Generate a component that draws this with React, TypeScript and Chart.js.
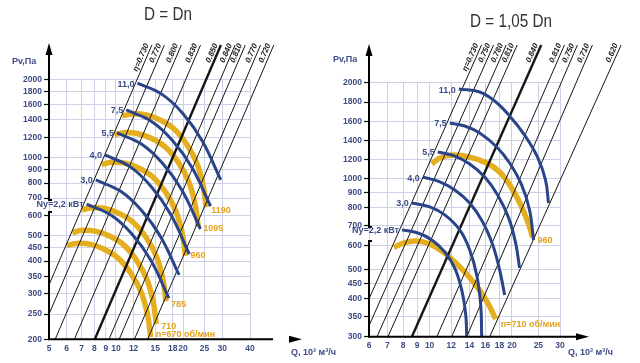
import React, { useEffect, useRef } from 'react';
import { Chart, registerables, LinearScale } from 'chart.js';

Chart.register(...registerables);

type Pt = [number, number];

// ================= LEFT PANEL  (D = Dn) =================
const L_X_TICKS = [5, 6, 7, 8, 9, 10, 12, 15, 18, 20, 25, 30, 40];
const L_Y_TICKS = [200, 250, 300, 350, 400, 450, 500, 600, 700, 800, 900, 1000, 1200, 1400, 1600, 1800, 2000];

// fan curves (Q, 10^3 m3/h ; Pv, Pa)
const L_FAN_670: Pt[] = [[6.01, 459], [6.64, 468], [7.7, 464], [8.82, 445], [10.22, 411], [11.72, 357], [13.0, 302], [13.87, 248], [14.31, 204]];
const L_FAN_710: Pt[] = [[6.37, 515], [7.04, 526], [8.16, 521], [9.35, 500], [10.83, 462], [12.42, 401], [13.78, 339], [14.7, 279], [15.16, 229]];
const L_FAN_785: Pt[] = [[7.04, 630], [7.78, 642], [9.02, 637], [10.33, 611], [11.97, 564], [13.73, 490], [15.23, 415], [16.25, 340], [16.77, 280]];
const L_FAN_960: Pt[] = [[8.61, 942], [9.51, 961], [11.03, 953], [12.64, 914], [14.64, 844], [16.79, 733], [18.63, 620], [19.87, 509], [20.5, 419]];
const L_FAN_1095: Pt[] = [[9.82, 1226], [10.85, 1250], [12.58, 1239], [14.41, 1189], [16.7, 1098], [19.15, 954], [21.25, 807], [22.67, 662], [23.39, 545]];
const L_FAN_1190: Pt[] = [[10.67, 1448], [11.79, 1476], [13.68, 1464], [15.66, 1404], [18.15, 1297], [20.82, 1126], [23.09, 953], [24.63, 782], [25.42, 644]];
const L_FAN_LABELS = ['n=670 об/мин', '710', '785', '960', '1095', '1190'];

// power lines (kW)
const L_N_110: Pt[] = [[12.48, 1942], [16.16, 1752], [20.05, 1476], [24.46, 1159], [29.55, 822]];
const L_N_75: Pt[] = [[11.12, 1529], [14.45, 1380], [17.97, 1164], [21.95, 917], [26.6, 652]];
const L_N_55: Pt[] = [[10.11, 1247], [13.1, 1126], [16.25, 949], [19.82, 748], [23.95, 532]];
const L_N_40: Pt[] = [[8.92, 1026], [11.59, 923], [14.41, 774], [17.6, 606], [21.34, 426]];
const L_N_30: Pt[] = [[8.11, 822], [10.5, 743], [13.03, 627], [15.89, 496], [19.21, 354]];
const L_N_22: Pt[] = [[7.38, 664], [9.52, 601], [11.79, 509], [14.34, 403], [17.29, 288]];
const L_N_LABELS = ['11,0', '7,5', '5,5', '4,0', '3,0', 'Ny=2,2 кВт'];

// efficiency lines
const L_ETA_LABELS = ['η=0.730', '0.770', '0.800', '0.830', '0.850', '0.840', '0.810', '0.770', '0.720'];
const L_ETA_LOW: Pt[] = [[5, 324], [5, 250], [5.33, 200], [6.5, 200], [8.03, 200], [9.3, 200], [10.33, 200], [12.1, 200], [13.87, 200]];
const L_ETA_HIGH: Pt[] = [[14.49, 2720], [16.49, 2720], [19.66, 2720], [23.97, 2720], [29.61, 2720], [34.3, 2720], [38.1, 2720], [44.62, 2720], [51.15, 2720]];

// ================= RIGHT PANEL  (D = 1,05 Dn) =================
const R_X_TICKS = [6, 7, 8, 9, 10, 12, 14, 16, 18, 20, 25, 30];
const R_Y_TICKS = [300, 350, 400, 450, 500, 600, 700, 800, 900, 1000, 1200, 1400, 1600, 1800, 2000];
// pressure axis of the original is not a pure log axis: value -> fraction of axis height
const R_Y_KNOTS: Pt[] = [[300, 0], [1000, 0.622], [1200, 0.6984], [1400, 0.7736], [1600, 0.848], [1800, 0.924], [2000, 1]];

const R_FAN_710: Pt[] = [[7.4, 592], [8.05, 613], [8.91, 622], [10.02, 608], [11.46, 563], [13.11, 503], [14.75, 445], [16.31, 388], [17.45, 343]];
const R_FAN_960: Pt[] = [[10.19, 1148], [10.9, 1213], [12.15, 1242], [14.02, 1222], [16.18, 1159], [18.04, 1065], [19.96, 932], [21.71, 807], [23.02, 708], [23.81, 641]];
const R_FAN_LABELS = ['n=710 об/мин', '960'];

const R_N_110: Pt[] = [[12.79, 1932], [15.25, 1901], [17.3, 1810], [19.62, 1653], [22.26, 1452], [24.83, 1222], [26.55, 991], [27.23, 831]];
const R_N_75: Pt[] = [[11.85, 1581], [13.44, 1548], [15.25, 1473], [17.6, 1325], [19.62, 1159], [21.71, 954], [23.21, 788], [24.01, 627]];
const R_N_55: Pt[] = [[10.71, 1273], [12.36, 1232], [14.02, 1148], [15.91, 1016], [17.74, 884], [19.46, 742], [20.64, 613], [21.34, 506]];
const R_N_40: Pt[] = [[9.44, 1016], [10.9, 976], [12.36, 918], [14.02, 831], [15.64, 719], [17.01, 604], [18.04, 499], [18.82, 412]];
const R_N_30: Pt[] = [[8.61, 831], [10.02, 807], [11.36, 759], [12.89, 677], [14.02, 581], [14.87, 480], [15.38, 382], [15.51, 300]];
const R_N_22: Pt[] = [[7.92, 677], [9.06, 661], [10.19, 627], [11.36, 572], [12.36, 506], [13.11, 428], [13.56, 354], [13.67, 300]];
const R_N_LABELS = ['11,0', '7,5', '5,5', '4,0', '3,0', 'Ny=2,2 кВт'];

const R_ETA_LABELS = ['η=0.730', '0.750', '0.780', '0.810', '0.840', '0.810', '0.750', '0.710', '0.620'];
const R_ETA_LOW: Pt[] = [[6, 400], [6, 326], [6.42, 300], [7.04, 300], [8.61, 300], [10.63, 300], [12.05, 300], [13.67, 300], [16.59, 300]];
const R_ETA_HIGH: Pt[] = [[15.49, 2457], [17.14, 2457], [19.07, 2457], [20.92, 2457], [25.61, 2457], [31.15, 2457], [34.75, 2457], [39.42, 2457], [50.2, 2457]];

// ================= styles =================
const YELLOW = '#e5ae1e';
const YELLOW_TXT = '#e6a21a';
const BLUE = '#2a4489';
const BLUE_TXT = '#3b4c88';
const TICK_TXT = '#3d4c84';
const GRID = '#cdd1e5';
const FONT = '"Liberation Sans", Arial, sans-serif';

class KnotLogScale extends LinearScale {
  static id = 'knotlog';
  static defaults = {};
  toDecimal(v: number) {
    const k = R_Y_KNOTS;
    const lv = Math.log10(Math.max(v, 1e-9));
    let i = 0;
    while (i < k.length - 2 && lv > Math.log10(k[i + 1][0])) i++;
    const a = Math.log10(k[i][0]);
    const b = Math.log10(k[i + 1][0]);
    return k[i][1] + ((lv - a) / (b - a)) * (k[i + 1][1] - k[i][1]);
  }
  getPixelForValue(v: number) {
    return this.getPixelForDecimal(this.toDecimal(v));
  }
  getValueForPixel(px: number) {
    const d = this.getDecimalForPixel(px);
    const k = R_Y_KNOTS;
    let i = 0;
    while (i < k.length - 2 && d > k[i + 1][1]) i++;
    const a = Math.log10(k[i][0]);
    const b = Math.log10(k[i + 1][0]);
    return Math.pow(10, a + ((d - k[i][1]) / (k[i + 1][1] - k[i][1])) * (b - a));
  }
}
Chart.register(KnotLogScale as any);

interface PanelCfg {
  title: string; titleX: number; titleY: number; titleW: number;
  xTicks: number[]; yTicks: number[]; xMin: number; xMax: number; yMin: number; yMax: number; yType: string;
  canvasW: number; padRight: number; padTop: number; yWidth: number; xHeight: number;
  fans: Pt[][]; fanLabels: string[]; fanLabelDy: number[];
  power: Pt[][]; powerLabels: string[];
  etaLow: Pt[]; etaHigh: Pt[]; etaLabels: string[]; etaBest: number;
  yTip: number; xEnd: number; xArrowBase: number; xArrowTip: number;
  axisGap: Pt;
  pv: Pt; q: Pt;
}

const LEFT: PanelCfg = {
  title: 'D = Dn', titleX: 168, titleY: 20, titleW: 48,
  xTicks: L_X_TICKS, yTicks: L_Y_TICKS, xMin: 5, xMax: 40, yMin: 200, yMax: 2000, yType: 'logarithmic',
  canvasW: 360, padRight: 110, padTop: 79.7, yWidth: 49, xHeight: 23.7,
  fans: [L_FAN_670, L_FAN_710, L_FAN_785, L_FAN_960, L_FAN_1095, L_FAN_1190], fanLabels: L_FAN_LABELS,
  fanLabelDy: [-3, 2, 3, 0, 2, 3],
  power: [L_N_110, L_N_75, L_N_55, L_N_40, L_N_30, L_N_22], powerLabels: L_N_LABELS,
  etaLow: L_ETA_LOW, etaHigh: L_ETA_HIGH, etaLabels: L_ETA_LABELS, etaBest: 4,
  yTip: 43, xEnd: 273, xArrowBase: 289, xArrowTip: 302,
  axisGap: [688, 619],
  pv: [12, 62], q: [291, 353],
};

const RIGHT: PanelCfg = {
  title: 'D = 1,05 Dn', titleX: 191, titleY: 27, titleW: 82,
  xTicks: R_X_TICKS, yTicks: R_Y_TICKS, xMin: 6, xMax: 30, yMin: 300, yMax: 2000, yType: 'knotlog',
  canvasW: 320, padRight: 80, padTop: 82.7, yWidth: 49, xHeight: 26.3,
  fans: [R_FAN_710, R_FAN_960], fanLabels: R_FAN_LABELS, fanLabelDy: [5, 3],
  power: [R_N_110, R_N_75, R_N_55, R_N_40, R_N_30, R_N_22], powerLabels: R_N_LABELS,
  etaLow: R_ETA_LOW, etaHigh: R_ETA_HIGH, etaLabels: R_ETA_LABELS, etaBest: 4,
  yTip: 44, xEnd: 258, xArrowBase: 256, xArrowTip: 269,
  axisGap: [692, 622],
  pv: [13, 60], q: [248, 353],
};

function line(points: Pt[], color: string, width: number, order: number, tension = 0.4) {
  return {
    data: points.map(([x, y]) => ({ x, y })),
    borderColor: color,
    borderWidth: width,
    pointRadius: 0,
    pointHoverRadius: 0,
    fill: false,
    tension,
    order,
    clip: false,
    borderCapStyle: 'butt',
  };
}

function makeChart(canvas: HTMLCanvasElement, p: PanelCfg) {
  const datasets: any[] = [];
  p.fans.forEach((pts) => datasets.push(line(pts, YELLOW, 5.5, 30)));
  p.etaLow.forEach((lo, i) => datasets.push(line([lo, p.etaHigh[i]], '#151515', i === p.etaBest ? 2.4 : 1, 20, 0)));
  p.power.forEach((pts) => datasets.push(line(pts, BLUE, 3, 10)));

  const overlay = {
    id: 'overlay',
    afterDatasetsDraw(chart: any) {
      const ctx = chart.ctx as CanvasRenderingContext2D;
      const xs = chart.scales.x;
      const ys = chart.scales.y;
      const ca = chart.chartArea;
      const px = (pt: Pt) => [xs.getPixelForValue(pt[0]), ys.getPixelForValue(pt[1])];
      ctx.save();

      // axes (y axis broken where the "Ny" label crosses it)
      const g0 = ys.getPixelForValue(p.axisGap[0]);
      const g1 = ys.getPixelForValue(p.axisGap[1]);
      ctx.clearRect(ca.left - 8, g0, 7, g1 - g0);
      ctx.strokeStyle = '#000';
      ctx.fillStyle = '#000';
      ctx.lineWidth = 2;
      ctx.beginPath();
      ctx.moveTo(ca.left, ca.bottom + 1);
      ctx.lineTo(ca.left, g1);
      ctx.lineTo(ca.left + 3, g1);
      ctx.moveTo(ca.left + 3, g0);
      ctx.lineTo(ca.left, g0);
      ctx.lineTo(ca.left, p.yTip + 8);
      ctx.moveTo(ca.left - 1, ca.bottom);
      ctx.lineTo(p.xEnd, ca.bottom);
      ctx.stroke();
      ctx.beginPath();
      ctx.moveTo(ca.left, p.yTip);
      ctx.lineTo(ca.left - 3.5, p.yTip + 12);
      ctx.lineTo(ca.left + 3.5, p.yTip + 12);
      ctx.closePath();
      ctx.fill();
      ctx.beginPath();
      ctx.moveTo(p.xArrowTip, ca.bottom);
      ctx.lineTo(p.xArrowBase, ca.bottom - 3.5);
      ctx.lineTo(p.xArrowBase, ca.bottom + 3.5);
      ctx.closePath();
      ctx.fill();

      // title (condensed look)
      ctx.fillStyle = '#333';
      ctx.font = '18.5px "Liberation Sans Narrow", "Liberation Sans", "DejaVu Sans", sans-serif';
      ctx.textAlign = 'center';
      ctx.textBaseline = 'alphabetic';
      const tw = ctx.measureText(p.title).width;
      ctx.save();
      ctx.translate(p.titleX, p.titleY);
      ctx.scale(Math.min(1, p.titleW / tw), 1);
      ctx.fillText(p.title, 0, 0);
      ctx.restore();

      // axis titles
      ctx.fillStyle = TICK_TXT;
      ctx.font = `bold 9px ${FONT}`;
      ctx.textAlign = 'left';
      ctx.textBaseline = 'middle';
      ctx.fillText('Pv,Па', p.pv[0], p.pv[1]);
      ctx.fillText('Q, 10³ м³/ч', p.q[0], p.q[1]);

      // efficiency labels
      ctx.fillStyle = '#1a1a1a';
      ctx.font = `italic bold 8px ${FONT}`;
      p.etaLabels.forEach((lab, i) => {
        const a = px(p.etaLow[i]);
        const b = px(p.etaHigh[i]);
        const ang = Math.atan2(b[1] - a[1], b[0] - a[0]);
        ctx.save();
        ctx.translate(b[0], b[1]);
        ctx.rotate(ang);
        ctx.textAlign = 'right';
        ctx.textBaseline = 'bottom';
        ctx.fillText(lab, -1, -1);
        ctx.restore();
      });

      // power labels
      ctx.fillStyle = BLUE_TXT;
      ctx.font = `bold 9px ${FONT}`;
      ctx.textAlign = 'right';
      ctx.textBaseline = 'middle';
      p.power.forEach((pts, i) => {
        const s = px(pts[0]);
        ctx.fillText(p.powerLabels[i], s[0] - 3, s[1] + 1);
      });

      // fan speed labels
      ctx.fillStyle = YELLOW_TXT;
      ctx.textAlign = 'left';
      p.fans.forEach((pts, i) => {
        const e = px(pts[pts.length - 1]);
        ctx.fillText(p.fanLabels[i], e[0] + 5, e[1] + p.fanLabelDy[i]);
      });
      ctx.restore();
    },
  };

  const tickFont = { family: FONT, size: 8.5, weight: 'bold' as const };

  return new Chart(canvas, {
    type: 'line',
    data: { datasets },
    options: {
      responsive: false,
      animation: false,
      devicePixelRatio: 1,
      events: [],
      layout: { padding: { left: 0, right: p.padRight, top: p.padTop, bottom: 0 } },
      plugins: { legend: { display: false }, tooltip: { enabled: false }, title: { display: false } },
      scales: {
        x: {
          type: 'logarithmic',
          min: p.xMin,
          max: p.xMax,
          afterBuildTicks: (s: any) => { s.ticks = p.xTicks.map((v) => ({ value: v })); },
          afterFit: (s: any) => { s.height = p.xHeight; },
          grid: { color: GRID, lineWidth: 1, drawTicks: false },
          border: { display: false },
          ticks: { autoSkip: false, maxRotation: 0, minRotation: 0, padding: 4, color: TICK_TXT, font: tickFont, callback: (v: any) => String(v) },
        },
        y: {
          type: p.yType as any,
          min: p.yMin,
          max: p.yMax,
          afterBuildTicks: (s: any) => { s.ticks = p.yTicks.map((v) => ({ value: v })); },
          afterFit: (s: any) => { s.width = p.yWidth; },
          grid: { color: GRID, lineWidth: 1, drawTicks: true, tickLength: 5, tickColor: '#111', tickWidth: 1.2 },
          border: { display: false },
          ticks: { autoSkip: false, padding: 2, color: TICK_TXT, font: tickFont, callback: (v: any) => String(v) },
        },
      },
    } as any,
    plugins: [overlay],
  });
}

function Panel({ cfg, left }: { cfg: PanelCfg; left: number }) {
  const ref = useRef<HTMLCanvasElement>(null);
  useEffect(() => {
    const chart = makeChart(ref.current as HTMLCanvasElement, cfg);
    return () => chart.destroy();
  }, [cfg]);
  return (
    <canvas
      ref={ref}
      width={cfg.canvasW}
      height={363}
      style={{ position: 'absolute', left, top: 0, width: cfg.canvasW, height: 363, display: 'block' }}
    />
  );
}

export default function App() {
  return (
    <div style={{ position: 'absolute', left: 0, top: 0, width: 640, height: 363, background: '#fff', overflow: 'hidden' }}>
      <Panel cfg={LEFT} left={0} />
      <Panel cfg={RIGHT} left={320} />
    </div>
  );
}
